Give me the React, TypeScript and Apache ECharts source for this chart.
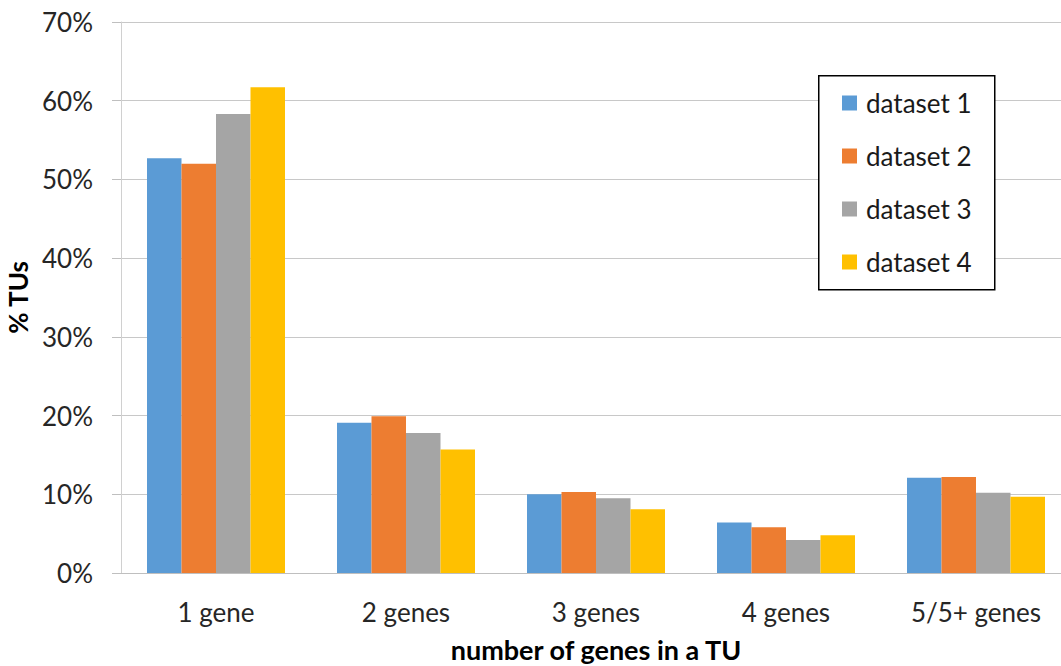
import React, { useEffect, useRef } from "react";
import * as echarts from "echarts";

const categories = ["1 gene", "2 genes", "3 genes", "4 genes", "5/5+ genes"];
const seriesNames = ["dataset 1", "dataset 2", "dataset 3", "dataset 4"];
const dataset1 = [52.7, 19.1, 10.0, 6.4, 12.1];
const dataset2 = [52.0, 19.9, 10.3, 5.8, 12.2];
const dataset3 = [58.3, 17.8, 9.5, 4.2, 10.2];
const dataset4 = [61.7, 15.7, 8.1, 4.8, 9.7];
const colors = ["#5B9BD5", "#ED7D31", "#A5A5A5", "#FFC000"];

const FONT = "Lato";

export default function App() {
  const ref = useRef<HTMLDivElement>(null);
  useEffect(() => {
    const chart = echarts.init(ref.current!, null, { renderer: "svg" });
    const all = [dataset1, dataset2, dataset3, dataset4];
    chart.setOption({
      animation: false,
      backgroundColor: "#ffffff",
      textStyle: { fontFamily: FONT },
      grid: { left: 121, width: 950, top: 22, height: 551, containLabel: false, outerBoundsMode: "none" },
      graphic: [
        {
          type: "rect",
          left: 818,
          top: 75,
          z: 3,
          shape: { width: 176, height: 214 },
          style: { fill: "#ffffff", stroke: "#000000", lineWidth: 1.5 },
        },
      ],
      legend: {
        orient: "vertical",
        left: 842,
        top: 88,
        padding: 0,
        itemGap: 23,
        itemWidth: 15,
        itemHeight: 15,
        icon: "rect",
        z: 5,
        data: seriesNames,
        textStyle: { fontFamily: FONT, fontSize: 26, color: "#1a1a1a", lineHeight: 30, padding: [0, 0, 0, 4] },
      },
      xAxis: {
        type: "category",
        data: categories,
        axisLine: { show: true, lineStyle: { color: "#bfbfbf", width: 1 } },
        axisTick: { show: false },
        axisLabel: { fontFamily: FONT, fontSize: 26, color: "#262626", margin: 26 },
        name: "number of genes in a TU",
        nameLocation: "middle",
        nameGap: 63,
        nameTextStyle: { fontFamily: FONT, fontSize: 27, fontWeight: "bold", color: "#000000" },
      },
      yAxis: {
        type: "value",
        min: 0,
        max: 70,
        interval: 10,
        axisLine: { show: true, lineStyle: { color: "#d0d0d0", width: 1 } },
        axisTick: { show: true, length: 9, lineStyle: { color: "#bfbfbf" } },
        splitLine: { show: true, lineStyle: { color: "#c8c8c8", width: 1 } },
        axisLabel: { fontFamily: FONT, fontSize: 26, color: "#262626", margin: 28, formatter: "{value}%" },
        name: "% TUs",
        nameLocation: "middle",
        nameRotate: 90,
        nameGap: 86,
        nameTextStyle: { fontFamily: FONT, fontSize: 26, fontWeight: "bold", color: "#000000" },
      },
      series: all.map((d, i) => ({
        name: seriesNames[i],
        type: "bar",
        data: d,
        barWidth: 34.5,
        barGap: "0%",
        itemStyle: { color: colors[i] },
      })),
    });
    return () => chart.dispose();
  }, []);
  return (
    <div
      ref={ref}
      style={{ position: "fixed", left: 0, top: 0, width: 1061, height: 666 }}
    />
  );
}
